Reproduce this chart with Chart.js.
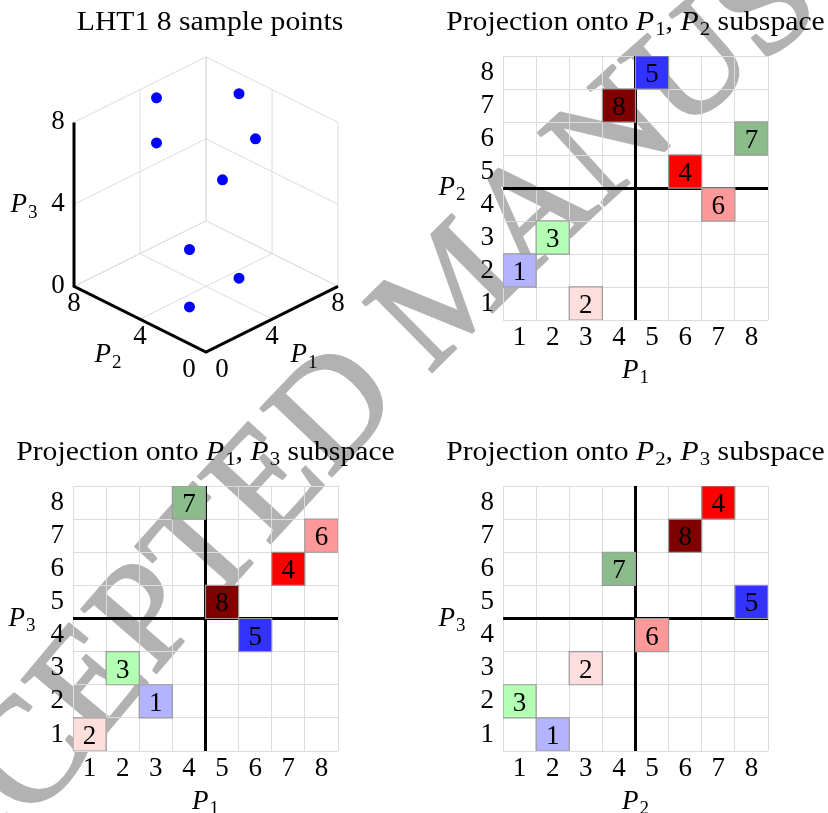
<!DOCTYPE html>
<html>
<head>
<meta charset="utf-8">
<title>LHT1 sample points and projections</title>
<script src="https://cdn.jsdelivr.net/npm/chart.js@4.4.1/dist/chart.umd.min.js"></script>
<style>
  html, body { margin: 0; padding: 0; background: #fff; }
  #wrap { position: relative; width: 828px; height: 813px; overflow: hidden; background: #fff; }
  #wrap canvas { position: absolute; left: 0; top: 0; }
</style>
</head>
<body>
<div id="wrap">
  <canvas id="mark" width="828" height="813"></canvas>
  <canvas id="cube" width="828" height="813"></canvas>
  <canvas id="p12" width="828" height="813"></canvas>
  <canvas id="p13" width="828" height="813"></canvas>
  <canvas id="p23" width="828" height="813"></canvas>
</div>
<script>
// ---- data -------------------------------------------------------------
const sampleIds = [1, 2, 3, 4, 5, 6, 7, 8];
const sampleColors = ['#b3b3ff', '#ffdede', '#b3ffb3', '#ff0000', '#3333ff', '#ff9999', '#8cbb8c', '#800000'];

// LHT1 design, coordinates of the 8 samples
const lhtP1 = [1, 3, 2, 6, 5, 7, 8, 4];
const lhtP2 = [2, 1, 3, 5, 8, 4, 6, 7];
const lhtP3 = [1, 2, 3, 4, 5, 6, 7, 8];

// cell positions in each 2-D projection panel (same sample order)
const projP1P2X = [1, 3, 2, 6, 5, 7, 8, 4];
const projP1P2Y = [2, 1, 3, 5, 8, 4, 6, 7];
const projP1P3X = [3, 1, 2, 7, 6, 8, 4, 5];
const projP1P3Y = [2, 1, 3, 6, 4, 7, 8, 5];
const projP2P3X = [2, 3, 1, 7, 8, 5, 4, 6];
const projP2P3Y = [1, 3, 2, 8, 5, 4, 6, 7];

const levelTicks = [1, 2, 3, 4, 5, 6, 7, 8];
const cubeTicks = [0, 4, 8];
const splitValue = 4.5;   // divider between the lower and upper half of the levels

// ---- shared styling -----------------------------------------------------
const SERIF = '"Liberation Serif", "DejaVu Serif", serif';
const FS = 27;
const TITLE_STRETCH = 1.1;
const PAGE_W = 828, PAGE_H = 813;

// draws text made of roman / italic / subscript pieces, centred on cx
function drawRich(ctx, segs, cx, baseline, size, stretch = 1) {
  const sub = Math.round(size * 0.7);
  const fontOf = st => st === 'i' ? `italic ${size}px ${SERIF}` : (st === 's' ? `${sub}px ${SERIF}` : `${size}px ${SERIF}`);
  let total = 0;
  const widths = segs.map(([t, st]) => { ctx.font = fontOf(st); const w = ctx.measureText(t).width + (st === 'i' ? 1 : 0); total += w; return w; });
  ctx.save();
  ctx.translate(cx, baseline);
  ctx.scale(stretch, 1);
  let x = -total / 2;
  ctx.textAlign = 'left';
  ctx.textBaseline = 'alphabetic';
  segs.forEach(([t, st], i) => {
    ctx.font = fontOf(st);
    ctx.fillText(t, x, st === 's' ? size * 0.2 : 0);
    x += widths[i];
  });
  ctx.restore();
}
const P = n => [['P', 'i'], [String(n), 's']];

// ---- watermark, set letter by letter along a gentle curve ----------------
(function () {
  const g = document.getElementById('mark').getContext('2d');
  const text = 'ACCEPTED MANUSCRIPT';
  const first = 2, last = 13;               // letters pinned to the two ends of the curve
  const p0 = { x: 33, y: 760 }, p2 = { x: 768, y: 8 }, bow = 25;
  const len = Math.hypot(p2.x - p0.x, p2.y - p0.y);
  const d = { x: (p2.x - p0.x) / len, y: (p2.y - p0.y) / len };
  const c = { x: (p0.x + p2.x) / 2 + 2 * bow * d.y, y: (p0.y + p2.y) / 2 - 2 * bow * d.x };
  const bez = t => ({
    x: (1 - t) * (1 - t) * p0.x + 2 * (1 - t) * t * c.x + t * t * p2.x,
    y: (1 - t) * (1 - t) * p0.y + 2 * (1 - t) * t * c.y + t * t * p2.y
  });
  const N = 600, pts = [bez(0)], acc = [0];
  for (let i = 1; i <= N; i++) {
    pts.push(bez(i / N));
    acc.push(acc[i - 1] + Math.hypot(pts[i].x - pts[i - 1].x, pts[i].y - pts[i - 1].y));
  }
  const L = acc[N];
  const at = s => {
    if (s <= 0) { const a = Math.atan2(pts[1].y - pts[0].y, pts[1].x - pts[0].x); return { x: p0.x + s * Math.cos(a), y: p0.y + s * Math.sin(a), a }; }
    if (s >= L) { const a = Math.atan2(pts[N].y - pts[N - 1].y, pts[N].x - pts[N - 1].x); return { x: p2.x + (s - L) * Math.cos(a), y: p2.y + (s - L) * Math.sin(a), a }; }
    let i = 1; while (acc[i] < s) i++;
    const f = (s - acc[i - 1]) / (acc[i] - acc[i - 1]);
    return {
      x: pts[i - 1].x + f * (pts[i].x - pts[i - 1].x),
      y: pts[i - 1].y + f * (pts[i].y - pts[i - 1].y),
      a: Math.atan2(pts[i].y - pts[i - 1].y, pts[i].x - pts[i - 1].x)
    };
  };
  g.font = `150px ${SERIF}`;
  const w = [...text].map(ch => g.measureText(ch).width);
  const centre = (i, extra) => { let s = 0; for (let k = 0; k < i; k++) s += w[k] + extra; return s + w[i] / 2; };
  const extra = (L - (centre(last, 0) - centre(first, 0))) / (last - first);
  g.fillStyle = '#b2b2b2';
  g.strokeStyle = '#b2b2b2';
  g.lineWidth = 2.5;
  g.lineJoin = 'round';
  g.textAlign = 'center';
  g.textBaseline = 'middle';
  [...text].forEach((ch, i) => {
    const q = at(centre(i, extra) - centre(first, extra));
    g.save();
    g.translate(q.x, q.y);
    g.rotate(q.a);
    g.fillText(ch, 0, 0);
    g.strokeText(ch, 0, 0);
    g.restore();
  });
})();

// ---- 2-D projection panels -------------------------------------------------
const cellNumbers = {
  id: 'cellNumbers',
  afterDatasetsDraw(chart) {
    const { ctx } = chart;
    const pts = chart.data.datasets[0].data;
    ctx.save();
    ctx.fillStyle = '#000';
    ctx.font = `${FS}px ${SERIF}`;
    ctx.textAlign = 'center';
    ctx.textBaseline = 'alphabetic';
    chart.getDatasetMeta(0).data.forEach((el, i) => ctx.fillText(String(pts[i].id), el.x, el.y + 9.5));
    ctx.restore();
  }
};

const panelText = {
  id: 'panelText',
  afterDraw(chart, args, o) {
    const { ctx, chartArea: a } = chart;
    const cx = (a.left + a.right) / 2, cy = (a.top + a.bottom) / 2;
    ctx.save();
    ctx.fillStyle = '#000';
    drawRich(ctx, o.title, cx, a.top - 26, FS, TITLE_STRETCH);
    drawRich(ctx, o.xTitle, cx, a.bottom + 58, FS);
    drawRich(ctx, o.yTitle, a.left - 51, cy + 7, FS);
    ctx.restore();
  }
};

function cellSide(chart) {
  const s = chart.scales.x;
  return Math.abs(s.getPixelForValue(1) - s.getPixelForValue(0));
}

function projectionPanel(canvasId, area, xs, ys, title, xTitle, yTitle) {
  const Y_W = 36, X_H = 36;
  const tickFont = { family: SERIF, size: FS };
  const levelLabel = v => (levelTicks.includes(v) ? String(v) : '');
  const lightGrid = {
    color: c => (Number.isInteger(c.tick.value) ? 'rgba(0,0,0,0)' : '#dcdcdc'),
    lineWidth: 1,
    drawTicks: false
  };
  const dividerScale = (axisPos) => ({
    type: 'linear', position: axisPos, min: 0.5, max: 8.5, z: 1,
    afterBuildTicks: s => { s.ticks = [{ value: splitValue }]; },
    afterFit: s => { if (axisPos === 'bottom') s.height = 0; else s.width = 0; },
    ticks: { display: false },
    grid: { color: '#000', lineWidth: 3, drawTicks: false },
    border: { display: false }
  });
  return new Chart(document.getElementById(canvasId), {
    type: 'scatter',
    data: {
      datasets: [{
        data: sampleIds.map((id, i) => ({ x: xs[i], y: ys[i], id })),
        pointStyle: 'rect',
        pointRadius: c => cellSide(c.chart) / Math.SQRT2,
        pointHoverRadius: c => cellSide(c.chart) / Math.SQRT2,
        backgroundColor: sampleColors,
        borderColor: '#9a9a9a',
        borderWidth: 1.2
      }]
    },
    options: {
      responsive: false,
      animation: false,
      events: [],
      layout: { padding: { left: area.left - Y_W, top: area.top, right: PAGE_W - area.right, bottom: PAGE_H - area.bottom - X_H } },
      plugins: {
        legend: { display: false },
        tooltip: { enabled: false },
        panelText: { title, xTitle, yTitle }
      },
      scales: {
        x: {
          type: 'linear', position: 'bottom', min: 0.5, max: 8.5,
          afterFit: s => { s.height = X_H; },
          ticks: { stepSize: 0.5, autoSkip: false, maxRotation: 0, padding: 2, color: '#000', font: tickFont, callback: levelLabel },
          grid: lightGrid,
          border: { display: false }
        },
        y: {
          type: 'linear', position: 'left', min: 0.5, max: 8.5,
          afterFit: s => { s.width = Y_W; },
          ticks: { stepSize: 0.5, autoSkip: false, padding: 9, color: '#000', font: tickFont, callback: levelLabel },
          grid: lightGrid,
          border: { display: false }
        },
        xSplit: dividerScale('bottom'),
        ySplit: dividerScale('left')
      }
    },
    plugins: [cellNumbers, panelText]
  });
}

projectionPanel('p12', { left: 503, right: 768, top: 56, bottom: 320 }, projP1P2X, projP1P2Y,
  [['Projection onto ', 'r'], ...P(1), [', ', 'r'], ...P(2), [' subspace', 'r']], P(1), P(2));
projectionPanel('p13', { left: 73, right: 338, top: 486, bottom: 751 }, projP1P3X, projP1P3Y,
  [['Projection onto ', 'r'], ...P(1), [', ', 'r'], ...P(3), [' subspace', 'r']], P(1), P(3));
projectionPanel('p23', { left: 503, right: 768, top: 486, bottom: 751 }, projP2P3X, projP2P3Y,
  [['Projection onto ', 'r'], ...P(2), [', ', 'r'], ...P(3), [' subspace', 'r']], P(2), P(3));

// ---- 3-D view of the samples ------------------------------------------------
const VIEW = { ux: 16.5, uy: 8.2, uz: 20.5 };   // projected length of one unit along P1/P2 and P3
const proj = (p1, p2, p3) => ({ x: (p1 - p2) * VIEW.ux, y: (p1 + p2) * VIEW.uy + p3 * VIEW.uz });
const cubeMax = cubeTicks[cubeTicks.length - 1];

const wallSegments = [];
cubeTicks.forEach(c => {
  // floor P3 = 0
  wallSegments.push([[c, 0, 0], [c, cubeMax, 0]], [[0, c, 0], [cubeMax, c, 0]]);
  // back wall P1 = max
  wallSegments.push([[cubeMax, c, 0], [cubeMax, c, cubeMax]], [[cubeMax, 0, c], [cubeMax, cubeMax, c]]);
  // back wall P2 = max
  wallSegments.push([[c, cubeMax, 0], [c, cubeMax, cubeMax]], [[0, cubeMax, c], [cubeMax, cubeMax, c]]);
});
const axisPath = [[0, cubeMax, cubeMax], [0, cubeMax, 0], [0, 0, 0], [cubeMax, 0, 0]];

const cubeDatasets = [
  {
    data: sampleIds.map((id, i) => proj(lhtP1[i], lhtP2[i], lhtP3[i])),
    pointRadius: 5.5, pointHoverRadius: 5.5, backgroundColor: '#0000ff', borderWidth: 0, order: 0
  },
  {
    data: axisPath.map(p => proj(...p)), showLine: true, borderColor: '#000', borderWidth: 3,
    borderJoinStyle: 'miter', pointRadius: 0, tension: 0, order: 1
  },
  ...wallSegments.map(([a, b]) => ({
    data: [proj(...a), proj(...b)], showLine: true, borderColor: '#dcdcdc', borderWidth: 1,
    pointRadius: 0, tension: 0, order: 2
  }))
];

const cubeText = {
  id: 'cubeText',
  afterDraw(chart) {
    const { ctx, scales: { x, y } } = chart;
    const px = p => ({ x: x.getPixelForValue(p.x), y: y.getPixelForValue(p.y) });
    ctx.save();
    ctx.fillStyle = '#000';
    drawRich(ctx, [['LHT1 8 sample points', 'r']], (chart.chartArea.left + chart.chartArea.right) / 2, 30, FS, TITLE_STRETCH);
    ctx.font = `${FS}px ${SERIF}`;
    ctx.textAlign = 'center';
    ctx.textBaseline = 'middle';
    cubeTicks.forEach(t => {
      let q = px(proj(t, 0, 0));
      ctx.fillText(String(t), q.x + (t === 0 ? 16 : 0), q.y + 18);
      q = px(proj(0, t, 0));
      ctx.fillText(String(t), q.x - (t === 0 ? 17 : 0), q.y + 18);
      q = px(proj(0, cubeMax, t));
      ctx.fillText(String(t), q.x - 16, q.y);
    });
    const mid = cubeMax / 2;
    let q = px(proj(mid, 0, 0));
    drawRich(ctx, P(1), q.x + 32, q.y + 43, FS);
    q = px(proj(0, mid, 0));
    drawRich(ctx, P(2), q.x - 32, q.y + 43, FS);
    q = px(proj(0, cubeMax, mid));
    drawRich(ctx, P(3), q.x - 50, q.y + 8, FS);
    ctx.restore();
  }
};

new Chart(document.getElementById('cube'), {
  type: 'scatter',
  data: { datasets: cubeDatasets },
  options: {
    responsive: false,
    animation: false,
    events: [],
    layout: { padding: { left: 40, top: 40, right: PAGE_W - 380, bottom: PAGE_H - 380 } },
    plugins: { legend: { display: false }, tooltip: { enabled: false } },
    scales: {
      x: { type: 'linear', display: false, min: -166, max: 174 },
      y: { type: 'linear', display: false, min: -28, max: 312 }
    }
  },
  plugins: [cubeText]
});
</script>
</body>
</html>
